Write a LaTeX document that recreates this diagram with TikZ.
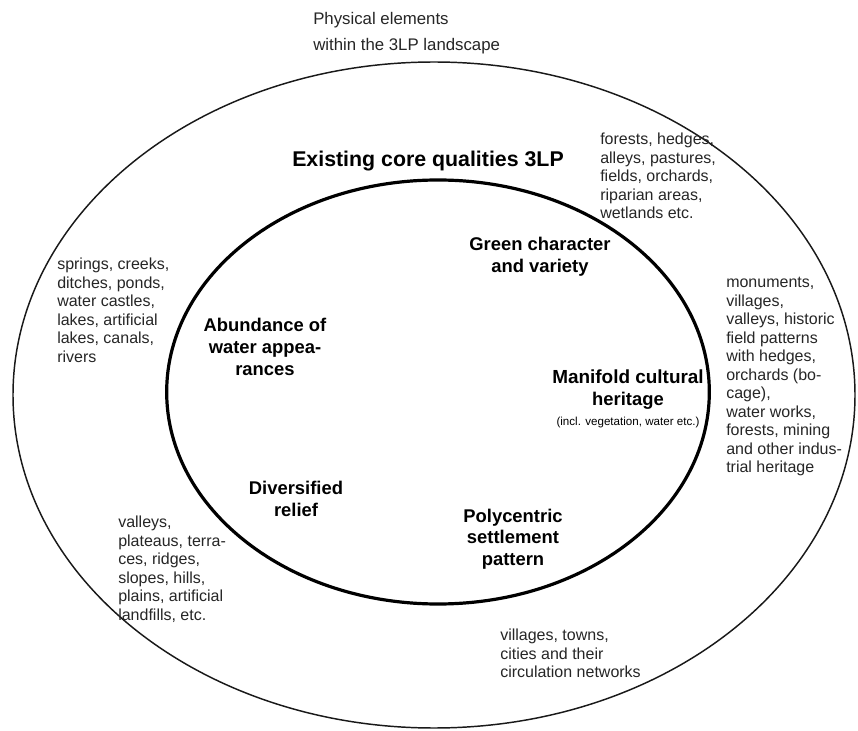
\documentclass[tikz,border=0pt]{standalone}
\usepackage{fontspec}
\setmainfont{Liberation Sans}
\usetikzlibrary{shapes.geometric}
\tikzset{
  plain/.style={inner sep=0pt, align=left, anchor=north west, font=\fontsize{12}{13.9}\selectfont, text=black!85},
  qual/.style={inner sep=0pt, align=center, font=\bfseries\fontsize{13.8}{16.2}\selectfont, text=black},
  ring/.style={draw=black!90, line width=1.1pt},
  corering/.style={draw=black, line width=2.4pt}
}
\begin{document}
\begin{tikzpicture}[x=0.75pt,y=-0.75pt]
\useasboundingbox (0,0) rectangle (858,731);
\fill[white] (0,0) rectangle (858,731);
% rings
\node[ring, ellipse, minimum width=631.5pt, minimum height=499.5pt, inner sep=0pt] (outer) at (434,395) {};
\node[corering, ellipse, minimum width=407pt, minimum height=318pt, inner sep=0pt] (inner) at (438,392) {};
% title
\node[plain, font=\fontsize{12.6}{19.5}\selectfont] (title) at (313,12) {Physical elements\\within the 3LP landscape};
% core qualities
\node[qual, font=\bfseries\fontsize{16}{18}\selectfont] (core) at (428,161) {Existing core qualities 3LP};
\node[qual] (green) at (540,257) {Green character\\and variety};
\node[qual] (abundance) at (265,347) {Abundance of\\water appea-\\rances};
\node[qual, anchor=north] (manifold) at (628,370) {\fontsize{14.2}{16.2}\selectfont Manifold cultural\\heritage\\[-1pt]{\normalfont\fontsize{8.7}{10}\selectfont (incl. vegetation, water etc.)}};
\node[qual] (diversified) at (296,499) {Diversified\\relief};
\node[qual] (polycentric) at (513,539) {Polycentric\\settlement\\pattern};
% element lists
\node[plain] (forests) at (600,133) {forests, hedges,\\alleys, pastures,\\fields, orchards,\\riparian areas,\\wetlands etc.};
\node[plain] (waterlist) at (57,258) {springs, creeks,\\ditches, ponds,\\water castles,\\lakes, artificial\\lakes, canals,\\rivers};
\node[plain] (monuments) at (726,277) {monuments,\\villages,\\valleys, historic\\field patterns\\with hedges,\\orchards (bo-\\cage),\\water works,\\forests, mining\\and other indus-\\trial heritage};
\node[plain] (valleys) at (118,516) {valleys,\\plateaus, terra-\\ces, ridges,\\slopes, hills,\\plains, artificial\\landfills, etc.};
\node[plain] (villages) at (500,629) {villages, towns,\\cities and their\\circulation networks};
\end{tikzpicture}
\end{document}
